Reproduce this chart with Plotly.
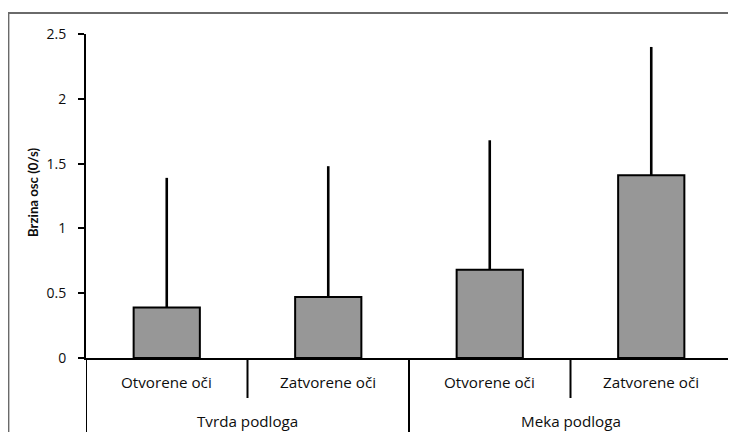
import plotly.graph_objects as go

groups = ["Tvrda podloga", "Meka podloga"]
conditions = ["Otvorene oči", "Zatvorene oči", "Otvorene oči", "Zatvorene oči"]
means = [0.39, 0.47, 0.68, 1.41]
sd_plus = [1.00, 1.01, 1.00, 0.99]
y_ticks = [0, 0.5, 1, 1.5, 2, 2.5]
y_tick_text = ["0", "0.5", "1", "1.5", "2", "2.5"]
y_title = "Brzina osc (0/s)"

FONT = "Open Sans"
TFONT = "Lato"
xs = list(range(len(conditions)))

fig = go.Figure()
fig.add_trace(go.Bar(
    x=xs, y=means, width=0.41,
    marker=dict(color="#979797", line=dict(color="black", width=2)),
    error_y=dict(type="data", symmetric=False, array=sd_plus,
                 arrayminus=[0] * len(means), width=0, thickness=2.6,
                 color="black"),
    showlegend=False,
))

# the page draws the figure 8px in from the top-left corner
OFF = 8
W, H = 736, 432
L, R, T, B = 86 - OFF, 12, 34 - OFF, 432 - (358 - OFF)
pw, ph = W - L - R, H - T - B

def py(pix):
    return (H - B - (pix - OFF)) / ph

def px(pix):
    return ((pix - OFF) - L) / pw

shapes = []
# outer frame
shapes.append(dict(type="rect", xref="paper", yref="paper",
                   x0=px(8.5), x1=1.3, y0=-0.6, y1=py(13),
                   line=dict(color="#6a6a6a", width=1.8), layer="below"))
# left axis extension below zero
shapes.append(dict(type="line", xref="x", yref="paper", x0=-0.5, x1=-0.5,
                   y0=0, y1=-0.5, line=dict(color="black", width=2)))
# right edge of category table
shapes.append(dict(type="line", xref="x", yref="paper", x0=3.5, x1=3.5,
                   y0=0, y1=-0.5, line=dict(color="black", width=2)))
# short dividers between conditions
for xv in [0.5, 2.5]:
    shapes.append(dict(type="line", xref="x", yref="paper", x0=xv, x1=xv,
                       y0=0, y1=py(398), line=dict(color="black", width=2)))
# long divider between groups
shapes.append(dict(type="line", xref="x", yref="paper", x0=1.5, x1=1.5,
                   y0=0, y1=-0.5, line=dict(color="black", width=2)))

annotations = []
for xv, c in zip(xs, conditions):
    annotations.append(dict(x=xv, y=py(382), xref="x", yref="paper",
                            text=c, showarrow=False, yanchor="middle",
                            font=dict(family=FONT, size=15.2, color="#0d0d0d")))
for gi, g in enumerate(groups):
    annotations.append(dict(x=0.5 + 2 * gi, y=py(421), xref="x", yref="paper",
                            text=g, showarrow=False, yanchor="middle",
                            font=dict(family=FONT, size=15.2, color="#0d0d0d")))
annotations.append(dict(x=px(33), y=py(192), xref="paper", yref="paper",
                        text=y_title, showarrow=False, textangle=-90,
                        xanchor="center", yanchor="middle",
                        font=dict(family=TFONT, size=13.2, color="#0d0d0d",
                                  weight="bold")))

fig.update_layout(
    width=W, height=H,
    margin=dict(l=L, r=R, t=T, b=B),
    paper_bgcolor="white", plot_bgcolor="white",
    shapes=shapes, annotations=annotations,
    xaxis=dict(range=[-0.5, 3.5], showticklabels=False, ticks="",
               showgrid=False, zeroline=False, showline=True,
               linecolor="black", linewidth=2, fixedrange=True),
    yaxis=dict(range=[0, 2.5], tickvals=y_ticks, ticktext=y_tick_text,
               ticks="outside", ticklen=6, tickwidth=2, tickcolor="black",
               showgrid=False, zeroline=False, showline=True,
               linecolor="black", linewidth=2,
               tickfont=dict(family=FONT, size=14, color="#0d0d0d"),
               ticklabelstandoff=9, fixedrange=True),
)

fig.write_html("out.html")
